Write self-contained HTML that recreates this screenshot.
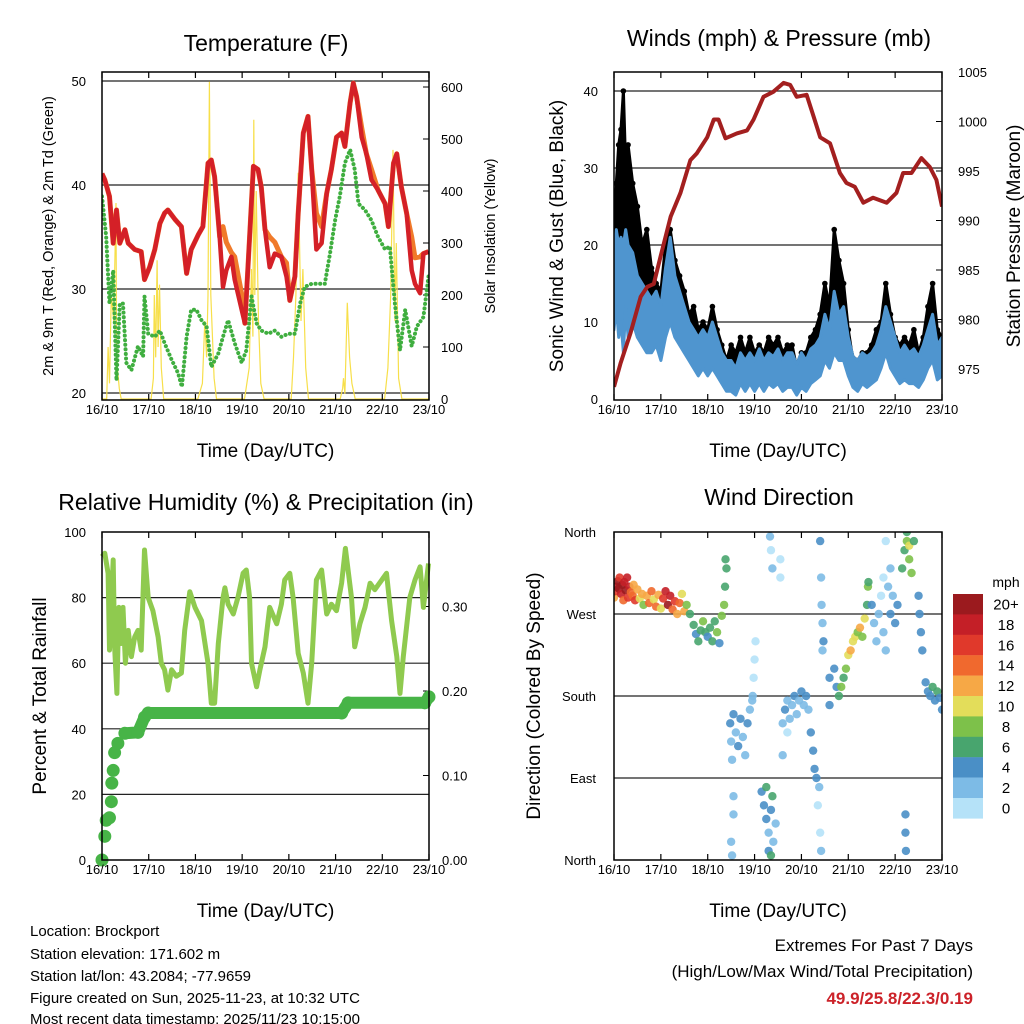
<!DOCTYPE html>
<html><head><meta charset="utf-8"><style>
html,body{margin:0;padding:0;background:#fff}
svg{display:block;font-family:"Liberation Sans",sans-serif}
</style></head><body>
<svg id="root" width="1024" height="1024" viewBox="0 0 1024 1024">
<rect width="1024" height="1024" fill="#fff"/>
<g id="p1"></g>
<g id="p2"></g>
<g id="p3"></g>
<g id="p4"></g>
<g id="footer">
<text x="30" y="936" font-size="15">Location: Brockport</text>
<text x="30" y="959" font-size="15">Station elevation: 171.602 m</text>
<text x="30" y="981" font-size="15">Station lat/lon: 43.2084; -77.9659</text>
<text x="30" y="1003" font-size="15">Figure created on Sun, 2025-11-23, at 10:32 UTC</text>
<text x="30" y="1025" dy="-1" font-size="15">Most recent data timestamp: 2025/11/23 10:15:00</text>
<text x="973" y="951" font-size="17" text-anchor="end">Extremes For Past 7 Days</text>
<text x="973" y="977" font-size="17" text-anchor="end">(High/Low/Max Wind/Total Precipitation)</text>
<text x="973" y="1004" font-size="17" font-weight="bold" fill="#cc2229" text-anchor="end">49.9/25.8/22.3/0.19</text>
</g>
</svg>
<script>
// ---------- DATA ----------
const dayLabels = ["16/10","17/10","18/10","19/10","20/10","21/10","22/10","23/10"];
const tempTicks = [20,30,40,50];
const solarTicks = [0,100,200,300,400,500,600];
const tempT = [0,.06,.16,.24,.31,.38,.49,.56,.7,.84,.91,1.02,1.13,1.24,1.34,1.41,1.56,1.7,1.81,1.91,2.06,2.16,2.27,2.34,2.41,2.52,2.59,2.66,2.77,2.84,2.99,3.06,3.16,3.24,3.34,3.41,3.49,3.59,3.7,3.84,3.95,4.02,4.13,4.2,4.31,4.41,4.49,4.59,4.7,4.81,4.91,5.02,5.13,5.2,5.31,5.38,5.45,5.56,5.66,5.77,5.91,6.06,6.13,6.24,6.31,6.41,6.52,6.63,6.7,6.81,6.88,6.99];
const temp2m = [41.1,40.5,38.9,34.4,37.6,34.4,35.7,34.4,33.8,33.6,30.9,32.1,33.8,36.3,37.3,37.6,36.7,36.0,31.5,33.8,35.2,36.0,42.1,42.4,40.8,35.0,30.2,31.8,33.1,30.9,28.0,26.7,35.0,41.8,41.5,39.8,35.7,32.1,33.4,33.1,31.2,28.9,31.2,37.3,45.0,46.6,41.5,33.8,34.4,39.2,41.5,44.6,45.0,43.7,47.9,49.8,48.5,44.6,43.0,40.5,39.5,38.2,36.0,42.1,43.0,39.8,37.3,31.8,30.5,29.6,33.4,33.6];
const temp9m = [41.1,40.5,38.9,34.4,37.6,34.4,35.7,34.4,33.8,33.6,30.9,32.1,33.8,36.3,37.3,37.6,36.7,36.0,31.5,33.8,35.2,36.0,42.1,42.4,40.8,35.0,36.0,34.5,33.5,33.1,29.5,26.7,35.0,41.8,41.5,39.8,35.7,35.0,34.5,33.1,32.5,28.9,31.2,37.3,45.0,46.6,41.5,37.3,36.0,39.2,41.5,44.6,45.0,43.7,47.9,49.8,48.5,45.5,43.0,41.5,39.5,38.2,36.0,42.1,43.0,39.8,37.3,35.0,33.0,33.1,33.4,33.6];
const dewT = [0,.09,.16,.24,.31,.38,.45,.52,.63,.77,.88,.91,.99,1.13,1.24,1.34,1.49,1.63,1.71,1.81,1.91,2.02,2.13,2.24,2.34,2.49,2.59,2.7,2.84,2.99,3.09,3.2,3.31,3.41,3.56,3.7,3.84,3.99,4.13,4.24,4.34,4.49,4.63,4.77,4.88,4.99,5.09,5.2,5.31,5.41,5.49,5.63,5.77,5.91,6.06,6.16,6.27,6.38,6.49,6.63,6.74,6.88,6.99];
const dewpt = [38.9,35.0,28.6,31.8,21.2,28.6,28.6,22.9,22.2,24.5,23.5,29.3,25.7,25.4,26.0,24.8,23.2,21.9,20.6,25.4,28.0,28.0,27.0,26.4,22.5,23.8,25.4,27.0,24.8,22.9,24.1,29.3,26.7,26.0,25.7,26.0,25.4,25.7,25.7,28.6,30.2,30.5,30.5,30.5,33.4,36.6,38.9,42.1,43.4,41.5,38.2,37.6,36.6,35.0,33.8,34.1,28.6,24.1,28.0,24.5,26.4,27.3,31.2];
const solarT = [0,0.1,0.13,0.16,0.2,0.25,0.3,0.31,0.33,0.37,0.41,0.45,1.05,1.1,1.12,1.15,1.18,1.2,1.23,1.27,1.32,1.36,2.05,2.15,2.2,2.24,2.27,2.3,2.33,2.4,2.45,3.05,3.15,3.2,3.23,3.25,3.27,3.3,3.35,3.4,3.47,4.05,4.1,4.15,4.2,4.26,4.3,4.36,4.42,5.1,5.15,5.17,5.2,5.25,5.3,5.35,5.42,6.05,6.12,6.18,6.23,6.27,6.3,6.35,6.42,7.0];
const solarW = [0,0,100,30,200,150,377,120,60,20,0,0,0,40,200,80,267,100,220,60,0,0,0,30,150,80,200,610,200,40,0,0,60,250,120,537,200,400,150,30,0,0,80,200,435,150,250,60,0,0,20,40,10,185,80,30,0,0,60,200,479,150,300,40,0,0];

const windTicks = [0,10,20,30,40];
const presTicks = [975,980,985,990,995,1000,1005];
const windT = [0,0.05,0.1,0.15,0.2,0.25,0.3,0.4,0.5,0.6,0.7,0.8,0.9,1.0,1.1,1.2,1.3,1.4,1.5,1.6,1.7,1.8,1.9,2.0,2.1,2.2,2.3,2.4,2.5,2.6,2.7,2.8,2.9,3.0,3.1,3.2,3.3,3.4,3.5,3.6,3.7,3.8,3.9,4.0,4.1,4.2,4.3,4.4,4.5,4.6,4.7,4.8,4.9,5.0,5.1,5.2,5.3,5.4,5.5,5.6,5.7,5.8,5.9,6.0,6.1,6.2,6.3,6.4,6.5,6.6,6.7,6.8,6.9,7.0];
const windHi = [18,22,20,21,20,22,20,19,16,15,14,13,14,12,17,21,16,14,12,10,9,8,9,8,10,8,6,5,5,4,6,5,6,5,6.5,5,6,5.5,6.5,5,6,6,4.5,6,5,6.5,7,8,11,9,14,11,12,8,5.5,5,6,5.5,6,7,9,12,10,8,6,7,6,6.5,5.5,7,9,11,7,8];
const windLo = [9,12,8,10,6,12,8,10,8,7,6,6,7,5,8,10,8,7,6,5,4,3,4,3,4,3,2,1,1,0.5,2,1,2,1,2,1,2,1.5,2,1,1.5,1.5,0.5,1.5,1,2,2.5,3,5,4,6,5,5,3,1.5,1,2,1.5,2,2.5,4,6,4,3,2,2.5,2,2,1.5,2.5,4,5,2.5,3];
const gust = [22,28,33,35,40,30,33,28,25,20,22,17,15,14,20,22,18,16,14,11,12,9,10,9,12,9,7,5,7,6,8,6,8,6,7,6,8,7,8,6,7,7,4,6,6,8,9,11,15,12,22,18,15,9,5,5,6,6,7,9,10,15,11,8,7,8,7,9,6,8,12,15,9,8];
const presT = [0,.14,.35,.57,.71,.85,.99,1.21,1.42,1.63,1.77,1.99,2.13,2.23,2.38,2.62,2.84,2.98,3.19,3.4,3.62,3.76,3.9,4.11,4.26,4.4,4.61,4.82,4.96,5.14,5.32,5.53,5.82,6.03,6.17,6.35,6.56,6.74,6.88,7.0];
const pres = [973.2,975.6,978.6,982.3,983.3,983.6,986.3,990.4,992.8,996.1,996.8,998.4,1000.2,1000.2,998.3,998.8,999.1,1000.2,1002.5,1003.0,1003.9,1003.7,1002.5,1002.7,1000.5,998.4,997.8,994.8,993.8,993.4,991.8,992.3,991.8,992.8,994.8,994.8,996.3,995.4,994.1,991.4];

const rhTicks = [0,20,40,60,80,100];
const precipTicks = [0,0.1,0.2,0.3];
const rhT = [0,.06,.13,.16,.24,.27,.32,.36,.41,.45,.5,.56,.63,.7,.77,.84,.91,.99,1.09,1.2,1.27,1.34,1.41,1.49,1.59,1.7,1.77,1.88,1.99,2.13,2.27,2.34,2.41,2.49,2.59,2.63,2.7,2.81,2.91,3.02,3.09,3.16,3.2,3.31,3.38,3.49,3.59,3.74,3.84,3.91,4.02,4.09,4.2,4.31,4.41,4.49,4.59,4.7,4.81,4.91,5.02,5.13,5.21,5.34,5.41,5.52,5.63,5.74,5.84,5.99,6.09,6.2,6.31,6.38,6.45,6.59,6.7,6.81,6.88,6.99];
const rh = [92.5,93.5,87.4,64,91.5,65,50.8,77,66,77,60,70,62,68,70,64,94.5,80,76,68,60,58,51.8,58,56,57,70,81.8,77,73,60,47.8,47.8,66,80,83,78,75,80,87.4,88.4,80,60,52.8,58,65,77,72,78,85.4,87.4,80,63,57,47.8,60,85.4,88.4,75,78,76,84.4,95,80,65,72,77,84.4,82.4,85.4,87.4,73,62,50.8,62,80,85.4,89.4,77,90.4];
const precipT = [0,.06,.09,.16,.2,.21,.24,.27,.34,.49,.77,.91,.99,5.13,5.27,6.91,7.0];
const precip = [0,0.028,0.047,0.05,0.069,0.091,0.106,0.127,0.138,0.15,0.151,0.169,0.174,0.174,0.186,0.186,0.193];

const dirLabels = ["North","East","South","West","North"];
const dirTicks = [0,90,180,270,360];
const speedBins = ["0","2","4","6","8","10","12","14","16","18","20+"];
const speedColors = ["#b5e2f8","#7dbbe6","#4a8fc6","#48a56e","#7dc14a","#e3dd5a","#f6a846","#f0692e","#e0392b","#c41f27","#9b1a1e"];
const wdT =   [0.0,0.03,0.05,0.08,0.1,0.12,0.15,0.18,0.2,0.22,0.25,0.28,0.3,0.33,0.36,0.4,0.42,0.45,0.5,0.55,0.6,0.63, 0.7,0.75,0.8,0.85,0.9,0.95,1.0,1.05,1.1,1.15,1.2,1.25,1.3,1.35,1.4,1.45,1.5,1.55,1.62, 1.7,1.75,1.8,1.85,1.9,1.95,2.0,2.05,2.1,2.15,2.2,2.25,2.3, 2.35,2.37,2.4,2.38, 2.48,2.5,2.52,2.55,2.6,2.65,2.7,2.75,2.8,2.85,2.9,2.95,2.55,2.5,2.52,2.55, 2.98,3.0,2.96,3.02, 3.15,3.2,3.25,3.3,3.35,3.4,3.3,3.25,3.45,3.38,3.35, 3.33,3.35,3.38,3.55,3.55, 3.6,3.65,3.7,3.75,3.8,3.85,3.9,3.95,4.0,4.05,4.1,4.15,3.7,3.6, 4.2,4.25,4.28,4.32,4.35,4.4,4.42,4.38, 4.4,4.42,4.43,4.45,4.47,4.45,4.6,4.6, 4.7,4.75,4.8,4.85,4.9,4.95,5.0,5.05,5.1,5.15,5.2,5.25,5.3,5.35,5.4,5.42,5.43, 5.5,5.55,5.6,5.65,5.7,5.75,5.8,5.85,5.9,5.95,6.0,6.05,5.8,5.75,5.9, 6.15,6.2,6.25,6.3,6.35,6.25,6.3,6.4, 6.5,6.52,6.55,6.58, 6.65,6.7,6.75,6.8,6.85,6.9,6.95,7.0, 6.22,6.22,6.23];
const wdDir = [288,295,300,306,298,310,292,302,285,305,296,310,288,300,294,290,302,285,297,287,292,280, 290,282,295,286,278,291,276,287,295,280,290,275,284,270,282,292,273,280,270, 258,248,240,252,262,250,245,255,240,262,250,238,268, 280,300,320,330, 150,130,110,160,140,125,155,135,115,150,165,175,70,20,5,50, 200,220,180,240, 75,60,45,30,55,20,10,80,40,70,5, 355,340,320,310,330, 150,165,175,155,170,180,160,175,185,170,180,165,140,115, 140,120,100,90,60,30,10,80, 350,310,280,260,240,230,200,170, 210,190,180,190,200,210,225,230,240,245,250,255,245,265,280,300,305, 280,260,240,270,290,250,230,300,270,290,260,280,350,310,320, 320,340,350,330,315,360,345,350, 290,270,250,230, 195,185,180,190,175,185,178,165, 50,30,10];
const wdSpd = [12,16,18,20,20,17,19,20,14,18,20,19,16,18,15,14,13,16,13,10,12,8, 12,14,15,10,14,12,10,17,18,20,19,14,16,12,14,10,12,9,7, 6,5,6,7,8,6,5,7,6,7,8,5,9, 8,6,7,6, 4,3,2,4,3,4,4,3,2,4,3,2,2,3,2,2, 1,1,2,1, 4,5,4,3,4,3,4,6,3,7,6, 2,1,2,1,1, 3,4,3,2,3,4,2,3,4,3,4,3,1,2, 4,4,4,4,1,1,2,2, 4,3,2,3,4,2,4,4, 4,5,7,8,7,9,10,12,11,10,9,12,8,10,7,8,6, 4,3,2,2,1,3,2,3,4,3,4,4,1,1,3, 6,7,8,9,8,6,10,6, 4,4,4,4, 4,5,4,6,5,6,4,4, 4,4,4];

// ---------- HELPERS ----------
const NS = "http://www.w3.org/2000/svg";
function mk(tag, attrs, parent){
  const e = document.createElementNS(NS, tag);
  for (const k in attrs) e.setAttribute(k, attrs[k]);
  parent.appendChild(e);
  return e;
}
function txt(parent, x, y, s, size, anchor, extra){
  const e = mk("text", Object.assign({x:x, y:y, "font-size":size, "text-anchor":anchor||"middle", fill:"#000"}, extra||{}), parent);
  e.textContent = s;
  return e;
}
function linePath(ts, vs, fx, fy){
  return ts.map((t,i)=>(i?"L":"M")+fx(t).toFixed(1)+","+fy(vs[i]).toFixed(1)).join(" ");
}
function frame(g, X0, X1, Y0, Y1, fx, name){
  for (let d=0; d<=7; d++){
    const x = fx(d);
    const tk = mk("line",{x1:x,x2:x,y1:Y1,y2:Y1-6,stroke:"#000","stroke-width":1.2},g);
    
    
    const tk2 = mk("line",{x1:x,x2:x,y1:Y0,y2:Y0+6,stroke:"#000","stroke-width":1.2},g);
    
    
    const lb = txt(g, x, Y1+14, dayLabels[d], 13);
    
    
  }
  const r = mk("rect",{x:X0,y:Y0,width:X1-X0,height:Y1-Y0,fill:"none",stroke:"#000","stroke-width":1.5},g);
  
  
  const xt = txt(g, (X0+X1)/2, Y1+57, "Time (Day/UTC)", 19);
  
  
}
function grid(g, X0, X1, y){
  const l = mk("line",{x1:X0,x2:X1,y1:y,y2:y,stroke:"#222","stroke-width":1.2},g);
  
  
}

// ---------- PANEL 1: TEMPERATURE ----------
(function(){
  const g = document.getElementById("p1");
  const X0=102, X1=429, Y0=72, Y1=400;
  const fx = d => X0 + d*(X1-X0)/7;
  const fy = v => 81 + (50-v)*10.4;
  const fs = w => 399 - w*0.52;
  const clip = mk("clipPath",{id:"c1"},g); mk("rect",{x:X0,y:Y0,width:X1-X0,height:Y1-Y0},clip);
  tempTicks.forEach(v=>{ grid(g,X0,X1,fy(v));
    const l = txt(g, 86, fy(v)+5, String(v), 13, "end");
    
    
  });
  solarTicks.forEach(w=>{
    const t = mk("line",{x1:X1,x2:X1-6,y1:fs(w),y2:fs(w),stroke:"#000"},g);
    
    
    const l = txt(g, 441, fs(w)+5, String(w), 13, "start");
    
    
  });
  const cg = mk("g",{"clip-path":"url(#c1)"},g);
  const sol = mk("path",{d:linePath(solarT,solarW,fx,fs),fill:"none",stroke:"#f7df4a","stroke-width":1.2},cg);
  
  
  const dew = mk("path",{d:linePath(dewT,dewpt,fx,fy),fill:"none",stroke:"#3fae3f","stroke-width":4,"stroke-dasharray":"0.1 4.5","stroke-linecap":"round","stroke-linejoin":"round"},cg);
  
  
  const o = mk("path",{d:linePath(tempT,temp9m,fx,fy),fill:"none",stroke:"#f07a2a","stroke-width":5,"stroke-linejoin":"round"},cg);
  
  
  const r = mk("path",{d:linePath(tempT,temp2m,fx,fy),fill:"none",stroke:"#d42027","stroke-width":4.5,"stroke-linejoin":"round"},cg);
  
  
  frame(g,X0,X1,Y0,Y1,fx,"temperature");
  const t = txt(g, 266, 51, "Temperature (F)", 23);
  
  
  const yl = txt(g, 0, 0, "2m & 9m T (Red, Orange) & 2m Td (Green)", 14.5, "middle", {transform:"translate(53,236) rotate(-90)"});
  
  
  const yr = txt(g, 0, 0, "Solar Insolation (Yellow)", 14.5, "middle", {transform:"translate(495,236) rotate(-90)"});
  
  
})();

// ---------- PANEL 2: WIND & PRESSURE ----------
(function(){
  const g = document.getElementById("p2");
  const X0=614, X1=942, Y0=72, Y1=400;
  const fx = d => X0 + d*(X1-X0)/7;
  const fy = v => 399 - v*7.7;
  const fp = p => 369 - (p-975)*9.9;
  const clip = mk("clipPath",{id:"c2"},g); mk("rect",{x:X0,y:Y0,width:X1-X0,height:Y1-Y0},clip);
  windTicks.forEach(v=>{ if(v>0) grid(g,X0,X1,fy(v));
    const l = txt(g, 598, fy(v)+5, String(v), 13, "end");
    
    
  });
  presTicks.forEach(p=>{
    const t = mk("line",{x1:X1,x2:X1-6,y1:fp(p),y2:fp(p),stroke:"#000"},g);
    
    
    const l = txt(g, 958, fp(p)+5, String(p), 13, "start");
    
    
  });
  const cg = mk("g",{"clip-path":"url(#c2)"},g);
  const gp = windT.map((t,i)=>fx(t).toFixed(1)+","+fy(gust[i]).toFixed(1)).join(" ") + " " +
             windT.slice().reverse().map((t,j)=>{const i=windT.length-1-j; return fx(t).toFixed(1)+","+fy(windHi[i]).toFixed(1);}).join(" ");
  const gb = mk("polygon",{points:gp,fill:"#000",stroke:"#000","stroke-width":3,"stroke-linejoin":"round"},cg);
  
  
  windT.forEach((t,i)=>{
    const c = mk("circle",{cx:fx(t),cy:fy(gust[i]),r:2.8,fill:"#000"},cg);
    
    
  });
  const wp = windT.map((t,i)=>fx(t).toFixed(1)+","+fy(windHi[i]).toFixed(1)).join(" ") + " " +
             windT.slice().reverse().map((t,j)=>{const i=windT.length-1-j; return fx(t).toFixed(1)+","+fy(windLo[i]).toFixed(1);}).join(" ");
  const wb = mk("polygon",{points:wp,fill:"#4f95cf",stroke:"#4f95cf","stroke-width":3,"stroke-linejoin":"round"},cg);
  
  
  const pl = mk("path",{d:linePath(presT,pres,fx,fp),fill:"none",stroke:"#a31f1f","stroke-width":4,"stroke-linejoin":"round"},cg);
  
  
  frame(g,X0,X1,Y0,Y1,fx,"wind");
  const t = txt(g, 779, 46, "Winds (mph) & Pressure (mb)", 23);
  
  
  const yl = txt(g, 0, 0, "Sonic Wind & Gust (Blue, Black)", 19, "middle", {transform:"translate(563,236) rotate(-90)"});
  
  
  const yr = txt(g, 0, 0, "Station Pressure (Maroon)", 19, "middle", {transform:"translate(1020,236) rotate(-90)"});
  
  
})();

// ---------- PANEL 3: RH & PRECIP ----------
(function(){
  const g = document.getElementById("p3");
  const X0=102, X1=429, Y0=532, Y1=860;
  const fx = d => X0 + d*(X1-X0)/7;
  const fy = v => 860 - v*3.28;
  const fp = p => 860 - p*845;
  const clip = mk("clipPath",{id:"c3"},g); mk("rect",{x:X0-8,y:Y0,width:X1-X0+16,height:Y1-Y0+8},clip);
  rhTicks.forEach(v=>{ if(v>0&&v<100) grid(g,X0,X1,fy(v));
    const l = txt(g, 86, fy(v)+5, String(v), 13, "end");
    
    
  });
  precipTicks.forEach(p=>{
    const t = mk("line",{x1:X1,x2:X1-6,y1:fp(p),y2:fp(p),stroke:"#000"},g);
    
    
    const l = txt(g, 442, fp(p)+5, p.toFixed(2), 13, "start");
    
    
  });
  const cg = mk("g",{"clip-path":"url(#c3)"},g);
  const rl = mk("path",{d:linePath(rhT,rh,fx,fy),fill:"none",stroke:"#8fca4f","stroke-width":5,"stroke-linejoin":"round"},cg);
  
  
  const pl = mk("path",{d:linePath(precipT.slice(9),precip.slice(9),fx,fp),fill:"none",stroke:"#47b447","stroke-width":12,"stroke-linecap":"round","stroke-linejoin":"round"},cg);
  
  
  precipT.forEach((t,i)=>{
    const c = mk("circle",{cx:fx(t),cy:fp(precip[i]),r:6.5,fill:"#47b447"},cg);
    
    
  });
  frame(g,X0,X1,Y0,Y1,fx,"humidity");
  const t = txt(g, 266, 510, "Relative Humidity (%) & Precipitation (in)", 23);
  
  
  const yl = txt(g, 0, 0, "Percent & Total Rainfall", 19, "middle", {transform:"translate(46,696) rotate(-90)"});
  
  
})();

// ---------- PANEL 4: WIND DIRECTION ----------
(function(){
  const g = document.getElementById("p4");
  const X0=614, X1=942, Y0=532, Y1=860;
  const fx = d => X0 + d*(X1-X0)/7;
  const fy = v => 860 - v/360*328;
  const clip = mk("clipPath",{id:"c4"},g); mk("rect",{x:X0,y:Y0,width:X1-X0,height:Y1-Y0},clip);
  dirTicks.forEach((v,i)=>{ if(v>0&&v<360) grid(g,X0,X1,fy(v));
    const l = txt(g, 596, fy(v)+5, dirLabels[i], 13, "end");
    
    
  });
  const cg = mk("g",{"clip-path":"url(#c4)"},g);
  wdT.forEach((t,i)=>{
    const b = Math.min(10, Math.floor(wdSpd[i]/2));
    const c = mk("circle",{cx:fx(t),cy:fy(wdDir[i]),r:4.2,fill:speedColors[b],"fill-opacity":0.9},cg);
    
    
  });
  frame(g,X0,X1,Y0,Y1,fx,"direction");
  const t = txt(g, 779, 505, "Wind Direction", 23);
  
  
  const yl = txt(g, 0, 0, "Direction (Colored By Speed)", 19, "middle", {transform:"translate(540,696) rotate(-90)"});
  
  
  // legend
  const lg = mk("g",{},g);
  
  
  const lt = txt(lg, 1006, 587, "mph", 14);
  
  
  for (let i=0;i<speedBins.length;i++){
    const k = speedBins.length-1-i;
    const y = 594 + i*20.4;
    const r = mk("rect",{x:953,y:y,width:30,height:20.6,fill:speedColors[k]},lg);
    
    
    const l = txt(lg, 1006, y+15.5, speedBins[k], 15);
    
    
  }
})();
</script>
</body></html>
